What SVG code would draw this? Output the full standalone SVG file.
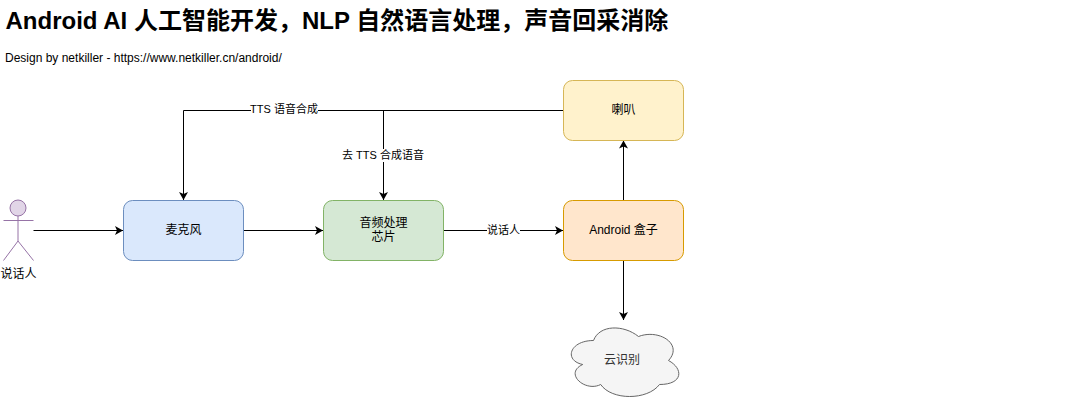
<svg xmlns="http://www.w3.org/2000/svg" width="1083" height="401" viewBox="0 0 1083 401">
<style>
text{font-family:"Liberation Sans","Noto Sans CJK SC",sans-serif;font-size:11px;fill:#000;text-anchor:middle}
.box{stroke-width:1}
.n{font-size:12px}
.c{fill:none;stroke:#000;stroke-width:1}
.lb{fill:#fff;stroke:none}
text.l{text-anchor:start}
</style>
<defs><marker id="a" markerUnits="userSpaceOnUse" markerWidth="10" markerHeight="10" refX="8" refY="4.5" orient="auto"><path d="M0 0L8 4.500L0 9L2 4.500Z" fill="#000"/></marker></defs>
<rect width="1083" height="401" fill="#fff"/>
<text id="title" class="l" x="5.500" y="29" style="font-size:24px;font-weight:700">Android AI 人工智能开发，NLP 自然语言处理，声音回采消除</text>
<text id="subtitle" class="l" x="5" y="62" style="font-size:12px">Design by netkiller - https://www.netkiller.cn/android/</text>
<g id="connectors">
<path class="c" marker-end="url(#a)" d="M33.500 230.500H123"/>
<path class="c" marker-end="url(#a)" d="M243.500 230.500H323"/>
<path class="c" marker-end="url(#a)" d="M443.500 230.500H563"/>
<path class="c" marker-end="url(#a)" d="M623.500 200V140.500"/>
<path class="c" marker-end="url(#a)" d="M623.500 260.500V320"/>
<path class="c" marker-end="url(#a)" d="M563.500 110.500H183.500V200"/>
<path class="c" marker-end="url(#a)" d="M383.500 110.500V200"/>
<rect class="lb" x="251" y="103" width="67" height="13"/><text x="284" y="113">TTS 语音合成</text>
<rect class="lb" x="342" y="149" width="83" height="13"/><text x="383" y="159">去 TTS 合成语音</text>
<rect class="lb" x="487" y="224" width="33" height="13"/><text x="503.500" y="234">说话人</text>
</g>
<g id="speaker-person" fill="#e1d5e7" stroke="#9673a6">
<circle cx="18" cy="208" r="8"/>
<path fill="none" d="M18 216V241M3.500 220.500H33.500M18 241L3.500 260.500M18 241L33.500 260.500"/>
<text class="n" x="18.500" y="278" stroke="none">说话人</text>
</g>
<g id="mic"><rect class="box" x="123.500" y="200.500" width="120" height="60" rx="9" fill="#dae8fc" stroke="#6c8ebf"/><text class="n" x="183.500" y="234">麦克风</text></g>
<g id="audio-chip"><rect class="box" x="323.500" y="200.500" width="120" height="60" rx="9" fill="#d5e8d4" stroke="#82b366"/><text class="n" x="383.500" y="227">音频处理</text><text class="n" x="383.500" y="241">芯片</text></g>
<g id="android-box"><rect class="box" x="563.500" y="200.500" width="120" height="60" rx="9" fill="#ffe6cc" stroke="#d79b00"/><text class="n" x="623.500" y="234">Android 盒子</text></g>
<g id="horn"><rect class="box" x="563.500" y="80.500" width="120" height="60" rx="9" fill="#fff2cc" stroke="#d6b656"/><text class="n" x="623.500" y="114">喇叭</text></g>
<g id="cloud"><path d="M593.500 340.500C569.500 340.500 563.500 360.500 582.700 364.500C563.500 373.300 585.100 392.500 600.700 384.500C611.500 400.500 647.500 400.500 659.500 384.500C683.500 384.500 683.500 368.500 668.500 360.500C683.500 344.500 659.500 328.500 638.500 336.500C623.500 324.500 599.500 324.500 593.500 340.500Z" fill="#f5f5f5" stroke="#666"/><text class="n" x="622" y="364" style="fill:#333">云识别</text></g>
</svg>
